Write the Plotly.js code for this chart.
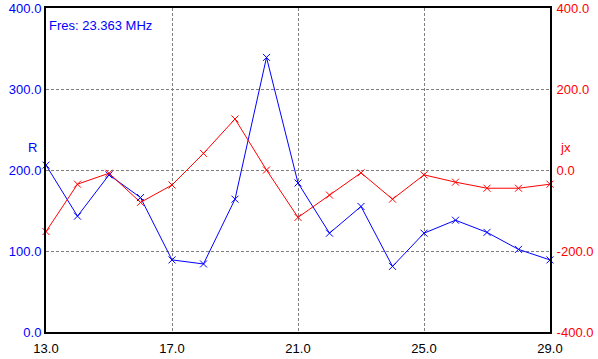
<!DOCTYPE html>
<html>
<head>
<meta charset="utf-8">
<script src="https://cdn.plot.ly/plotly-3.0.1.min.js"></script>
<style>html,body{margin:0;padding:0;background:#fff;}#chart{width:598px;height:359px;}</style>
</head>
<body>
<div id="chart"></div>
<script>
var freq = [13,14,15,16,17,18,19,20,21,22,23,24,25,26,27,28,29];
var resistance = [206,143,194,166,89,84,164,339,184,122,155,81,122,138,123,102,89];
var reactance = [-152,-35,-8,-80,-37,41,126,0,-117,-62,-7,-72,-12,-30,-45,-45,-35];
var xTicks = [13,17,21,25,29];
var xTickLabels = ["13.0","17.0","21.0","25.0","29.0"];
var rTicks = [0,100,200,300,400];
var rTickLabels = ["0.0","100.0","200.0","300.0","400.0"];
var jxTicks = [-400,-200,0,200,400];
var jxTickLabels = ["-400.0","-200.0","0.0","200.0","400.0"];
var fresText = "Fres: 23.363 MHz";

var font = "Liberation Sans, Arial, sans-serif";
var traces = [
  {x: freq, y: resistance, type: 'scatter', mode: 'lines+markers', name: 'R',
   line: {color: '#0000ff', width: 1}, marker: {symbol: 'x-thin-open', size: 7, color: '#0000ff', line: {color: '#0000ff', width: 1}}, yaxis: 'y', cliponaxis: false},
  {x: freq, y: reactance, type: 'scatter', mode: 'lines+markers', name: 'jx',
   line: {color: '#ff0000', width: 1}, marker: {symbol: 'x-thin-open', size: 7, color: '#ff0000', line: {color: '#ff0000', width: 1}}, yaxis: 'y2', cliponaxis: false}
];
var layout = {
  width: 598, height: 359,
  margin: {l: 46, r: 48, t: 8, b: 27, pad: 0},
  paper_bgcolor: '#ffffff', plot_bgcolor: '#ffffff',
  showlegend: false,
  font: {family: font, size: 13, color: '#000'},
  xaxis: {range: [13, 29], tickvals: xTicks, ticktext: xTickLabels, showgrid: true, gridcolor: '#808080', griddash: '3px,2px', gridwidth: 1,
          showline: true, linecolor: '#000', linewidth: 2, mirror: true, zeroline: false, ticks: '', ticklen: 0, ticklabelstandoff: 3,
          tickfont: {family: font, size: 13, color: '#000'}},
  yaxis: {range: [0, 400], tickvals: rTicks, ticktext: rTickLabels, showgrid: true, gridcolor: '#808080', griddash: '3px,2px', gridwidth: 1,
          showline: true, linecolor: '#000', linewidth: 2, zeroline: false, ticks: '', ticklen: 0,
          tickfont: {family: font, size: 13, color: '#0000ff'}},
  yaxis2: {range: [-400, 400], tickvals: jxTicks, ticktext: jxTickLabels, overlaying: 'y', side: 'right', showgrid: false,
           showline: true, linecolor: '#000', linewidth: 2, zeroline: false, ticks: '', ticklen: 0, ticklabelstandoff: 2,
           tickfont: {family: font, size: 13, color: '#ff0000'}},
  annotations: [
    {text: fresText, xref: 'paper', yref: 'paper', x: 0, y: 1, xanchor: 'left', yanchor: 'top', xshift: 1, yshift: -8,
     showarrow: false, font: {family: font, size: 13, color: '#0000ff'}},
    {text: 'R', xref: 'paper', yref: 'paper', x: 0, y: 0.57, xanchor: 'right', yanchor: 'middle', xshift: -7,
     showarrow: false, font: {family: font, size: 13, color: '#0000ff'}},
    {text: 'jx', xref: 'paper', yref: 'paper', x: 1, y: 0.57, xanchor: 'left', yanchor: 'middle', xshift: 8,
     showarrow: false, font: {family: font, size: 13, color: '#ff0000'}}
  ]
};
Plotly.newPlot('chart', traces, layout, {staticPlot: true, displayModeBar: false});
</script>
</body>
</html>
